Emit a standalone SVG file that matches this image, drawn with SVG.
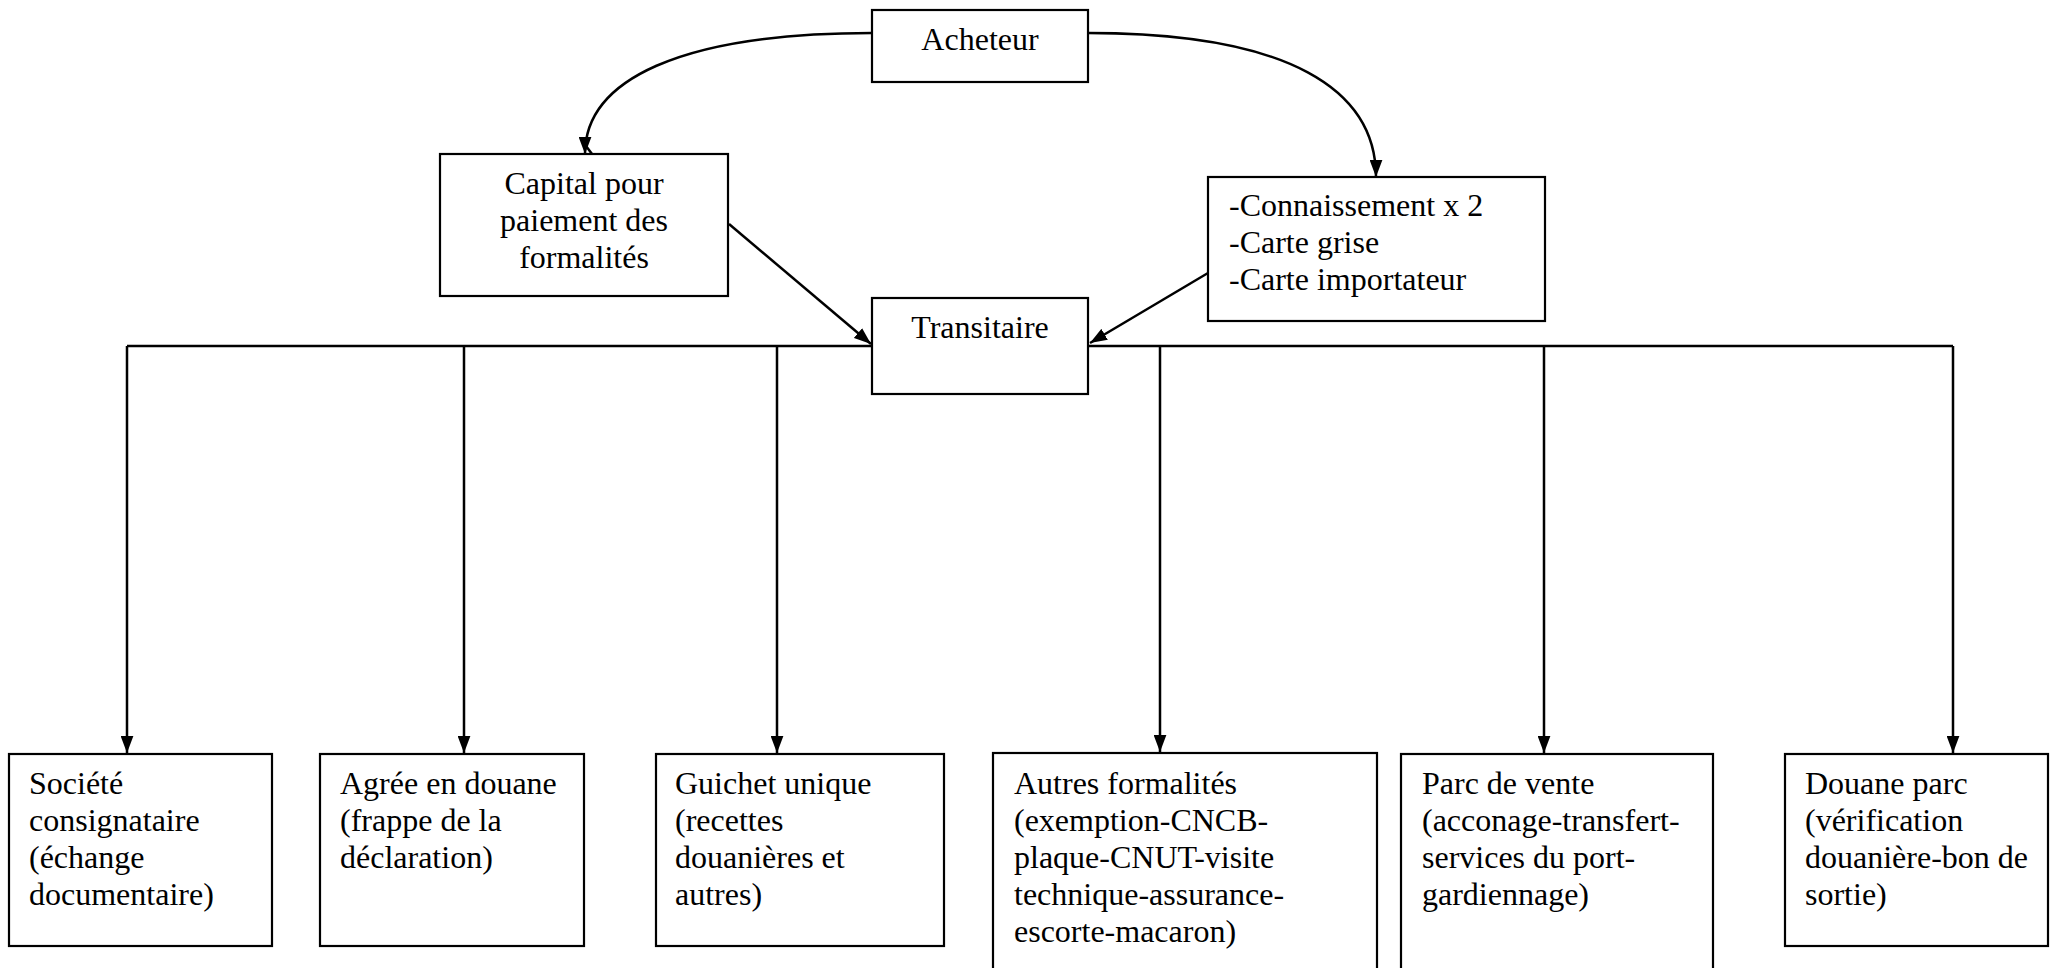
<svg xmlns="http://www.w3.org/2000/svg" width="2057" height="968" viewBox="0 0 2057 968">
<style>
.box{fill:#fff;stroke:#000;stroke-width:2.2}
.lbl{font-family:"Liberation Serif","Times New Roman",serif;font-size:32px;fill:#000}
.c{text-anchor:middle}
.ln{fill:none;stroke:#000;stroke-width:2.5}
</style>
<defs>
<marker id="ah" viewBox="0 0 16 12" refX="16" refY="6" markerWidth="17" markerHeight="13" markerUnits="userSpaceOnUse" orient="auto">
<path d="M0,0 L16,6 L0,12 z" fill="#000"/>
</marker>
</defs>
<rect width="2057" height="968" fill="#fff"/>
<g id="connectors">
<path class="ln" d="M872 33 C680 33 585 80 585 154" marker-end="url(#ah)"/>
<path class="ln" d="M586 146 L592 154"/>
<path class="ln" d="M1088 33 C1290 33 1376 90 1376 177" marker-end="url(#ah)"/>
<path class="ln" d="M729 224 L871 344" marker-end="url(#ah)"/>
<path class="ln" d="M1208 273 L1090 343" marker-end="url(#ah)"/>
<path class="ln" d="M127 346 H1953"/>
<path class="ln" d="M127 346 V753" marker-end="url(#ah)"/>
<path class="ln" d="M464 346 V753" marker-end="url(#ah)"/>
<path class="ln" d="M777 346 V753" marker-end="url(#ah)"/>
<path class="ln" d="M1160 346 V752" marker-end="url(#ah)"/>
<path class="ln" d="M1544 346 V753" marker-end="url(#ah)"/>
<path class="ln" d="M1953 346 V753" marker-end="url(#ah)"/>
</g>
<g id="acheteur">
<rect class="box" x="872" y="10" width="216" height="72"/>
<text class="lbl c" x="980" y="50">Acheteur</text>
</g>
<g id="capital">
<rect class="box" x="440" y="154" width="288" height="142"/>
<text class="lbl c" x="584" y="194">Capital pour</text>
<text class="lbl c" x="584" y="231">paiement des</text>
<text class="lbl c" x="584" y="268">formalités</text>
</g>
<g id="documents">
<rect class="box" x="1208" y="177" width="337" height="144"/>
<text class="lbl" x="1229" y="216">-Connaissement x 2</text>
<text class="lbl" x="1229" y="253">-Carte grise</text>
<text class="lbl" x="1229" y="290">-Carte importateur</text>
</g>
<g id="transitaire">
<rect class="box" x="872" y="298" width="216" height="96"/>
<text class="lbl c" x="980" y="338">Transitaire</text>
</g>
<g id="societe">
<rect class="box" x="9" y="754" width="263" height="192"/>
<text class="lbl" x="29" y="794">Société</text>
<text class="lbl" x="29" y="831">consignataire</text>
<text class="lbl" x="29" y="868">(échange</text>
<text class="lbl" x="29" y="905">documentaire)</text>
</g>
<g id="agree">
<rect class="box" x="320" y="754" width="264" height="192"/>
<text class="lbl" x="340" y="794">Agrée en douane</text>
<text class="lbl" x="340" y="831">(frappe de la</text>
<text class="lbl" x="340" y="868">déclaration)</text>
</g>
<g id="guichet">
<rect class="box" x="656" y="754" width="288" height="192"/>
<text class="lbl" x="675" y="794">Guichet unique</text>
<text class="lbl" x="675" y="831">(recettes</text>
<text class="lbl" x="675" y="868">douanières et</text>
<text class="lbl" x="675" y="905">autres)</text>
</g>
<g id="autres">
<rect class="box" x="993" y="753" width="384" height="240"/>
<text class="lbl" x="1014" y="794">Autres formalités</text>
<text class="lbl" x="1014" y="831">(exemption-CNCB-</text>
<text class="lbl" x="1014" y="868">plaque-CNUT-visite</text>
<text class="lbl" x="1014" y="905">technique-assurance-</text>
<text class="lbl" x="1014" y="942">escorte-macaron)</text>
</g>
<g id="parc">
<rect class="box" x="1401" y="754" width="312" height="240"/>
<text class="lbl" x="1422" y="794">Parc de vente</text>
<text class="lbl" x="1422" y="831">(acconage-transfert-</text>
<text class="lbl" x="1422" y="868">services du port-</text>
<text class="lbl" x="1422" y="905">gardiennage)</text>
</g>
<g id="douane">
<rect class="box" x="1785" y="754" width="263" height="192"/>
<text class="lbl" x="1805" y="794">Douane parc</text>
<text class="lbl" x="1805" y="831">(vérification</text>
<text class="lbl" x="1805" y="868">douanière-bon de</text>
<text class="lbl" x="1805" y="905">sortie)</text>
</g>
</svg>
